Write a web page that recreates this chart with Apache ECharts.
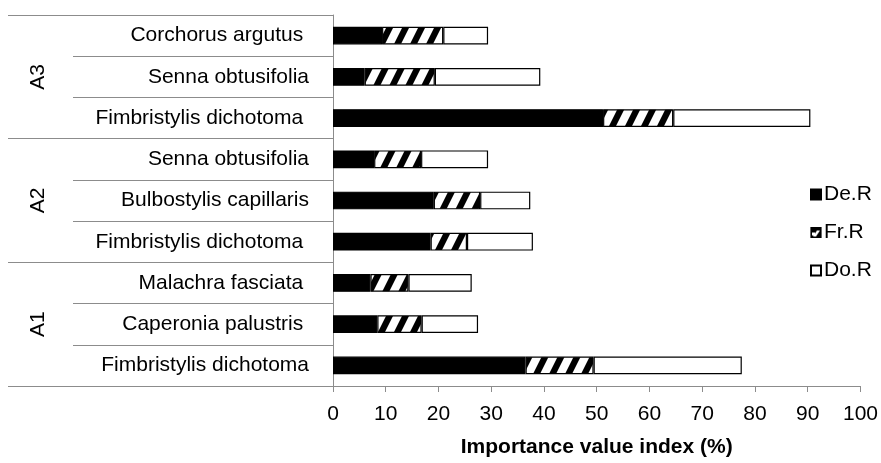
<!DOCTYPE html>
<html>
<head>
<meta charset="utf-8">
<script src="https://cdn.jsdelivr.net/npm/echarts@6/dist/echarts.min.js"></script>
<style>
html,body{margin:0;padding:0;background:#fff;}
#chart{width:881px;height:463px;}
</style>
</head>
<body>
<div id="chart"></div>
<script>
// Categories listed bottom -> top (trailing spaces as in the original labels)
const species = [
  'Fimbristylis dichotoma', 'Caperonia palustris ', 'Malachra fasciata ',
  'Fimbristylis dichotoma ', 'Bulbostylis capillaris', 'Senna obtusifolia',
  'Fimbristylis dichotoma ', 'Senna obtusifolia', 'Corchorus argutus '
];
const groups = ['A1', 'A2', 'A3'];
const seriesNames = ['De.R', 'Fr.R', 'Do.R'];
const deR = [36.5, 8.4, 7.1, 18.5, 19.1, 7.8, 51.2, 6.0, 9.3];
const frR = [12.9, 8.4, 7.2, 6.9, 8.8, 8.9, 13.3, 13.3, 11.6];
const doR = [28.1, 10.7, 12.0, 12.5, 9.5, 12.7, 26.0, 20.0, 8.5];
const xTicks = [0, 10, 20, 30, 40, 50, 60, 70, 80, 90, 100];

function hatch() {
  const w = 16, h = 32;
  const c = document.createElement('canvas');
  c.width = w; c.height = h;
  const g = c.getContext('2d');
  g.fillStyle = '#fff'; g.fillRect(0, 0, w, h);
  g.fillStyle = '#000';
  // filled parallelogram stripes (slope h/w), extended past the tile for seamless tiling
  const t = 7; // horizontal stripe thickness
  for (const o of [-w, 0, w]) {
    g.beginPath();
    g.moveTo(o - w, 2 * h);
    g.lineTo(o - w + t, 2 * h);
    g.lineTo(o + 2 * w + t, -h);
    g.lineTo(o + 2 * w, -h);
    g.closePath();
    g.fill();
  }
  return c;
}
function legendHatch() {
  const c = document.createElement('canvas');
  c.width = 10; c.height = 10;
  const g = c.getContext('2d');
  g.fillStyle = '#000'; g.fillRect(0, 0, 10, 10);
  g.fillStyle = '#fff';
  g.beginPath(); g.moveTo(2, 9); g.lineTo(5, 9); g.lineTo(9, 3); g.lineTo(6, 3); g.closePath(); g.fill();
  g.fillRect(1, 5, 3, 3);
  return c;
}
const hatchPattern = { image: hatch(), repeat: 'repeat' };
const legendPattern = { image: legendHatch(), repeat: 'repeat' };

const FONT = '"Liberation Sans", Arial, sans-serif';
const FS = 21;
const chart = echarts.init(document.getElementById('chart'), null, { renderer: 'canvas' });
const gray = '#8c8c8c';
const fills = ['#000000', hatchPattern, '#ffffff'];
const vals = [deR, frR, doR];

chart.setOption({
  animation: false,
  backgroundColor: '#fff',
  textStyle: { fontFamily: FONT, color: '#000' },
  grid: { left: 333, right: 19, top: 15, bottom: 76, containLabel: false },
  legend: {
    orient: 'vertical',
    left: 805, top: 179,
    itemWidth: 10, itemHeight: 10, itemGap: 17,
    icon: 'rect',
    textStyle: { fontSize: FS, color: '#000', fontFamily: FONT, padding: [0, 0, 0, -2] },
    data: [
      { name: seriesNames[0] },
      { name: seriesNames[1], itemStyle: { color: legendPattern, borderColor: '#000', borderWidth: 1.2 } },
      { name: seriesNames[2] }
    ]
  },
  xAxis: {
    type: 'value', min: xTicks[0], max: xTicks[xTicks.length - 1], interval: 10,
    axisLine: { show: true, lineStyle: { color: gray, width: 1 } },
    axisTick: { show: true, length: 6, lineStyle: { color: gray } },
    splitLine: { show: false },
    axisLabel: { fontSize: FS, color: '#000', margin: 18, fontFamily: FONT },
    name: 'Importance value index (%)',
    nameLocation: 'middle', nameGap: 51,
    nameTextStyle: { fontSize: FS, fontWeight: 'bold', color: '#000', fontFamily: FONT }
  },
  yAxis: [
    {
      type: 'category',
      data: species.map((s, i) => String(i)),
      axisLine: { show: true, lineStyle: { color: gray } },
      axisTick: { show: true, length: 260, interval: 0, lineStyle: { color: gray } },
      axisLabel: { fontSize: FS, color: '#000', margin: 24, fontFamily: FONT,
        formatter: v => species[+v] }
    },
    {
      type: 'category',
      data: groups,
      position: 'left',
      axisLine: { show: false },
      axisTick: { show: true, length: 325, interval: 0, lineStyle: { color: gray } },
      axisLabel: { fontSize: FS, color: '#000', margin: 284, rotate: 90, fontFamily: FONT }
    }
  ],
  series: seriesNames.map((n, k) => ({
    name: n,
    type: 'bar',
    stack: 'total',
    yAxisIndex: 0,
    barCategoryGap: '57%',
    data: vals[k],
    itemStyle: { color: fills[k], borderColor: '#000', borderWidth: 1.2 }
  }))
});
</script>
</body>
</html>
